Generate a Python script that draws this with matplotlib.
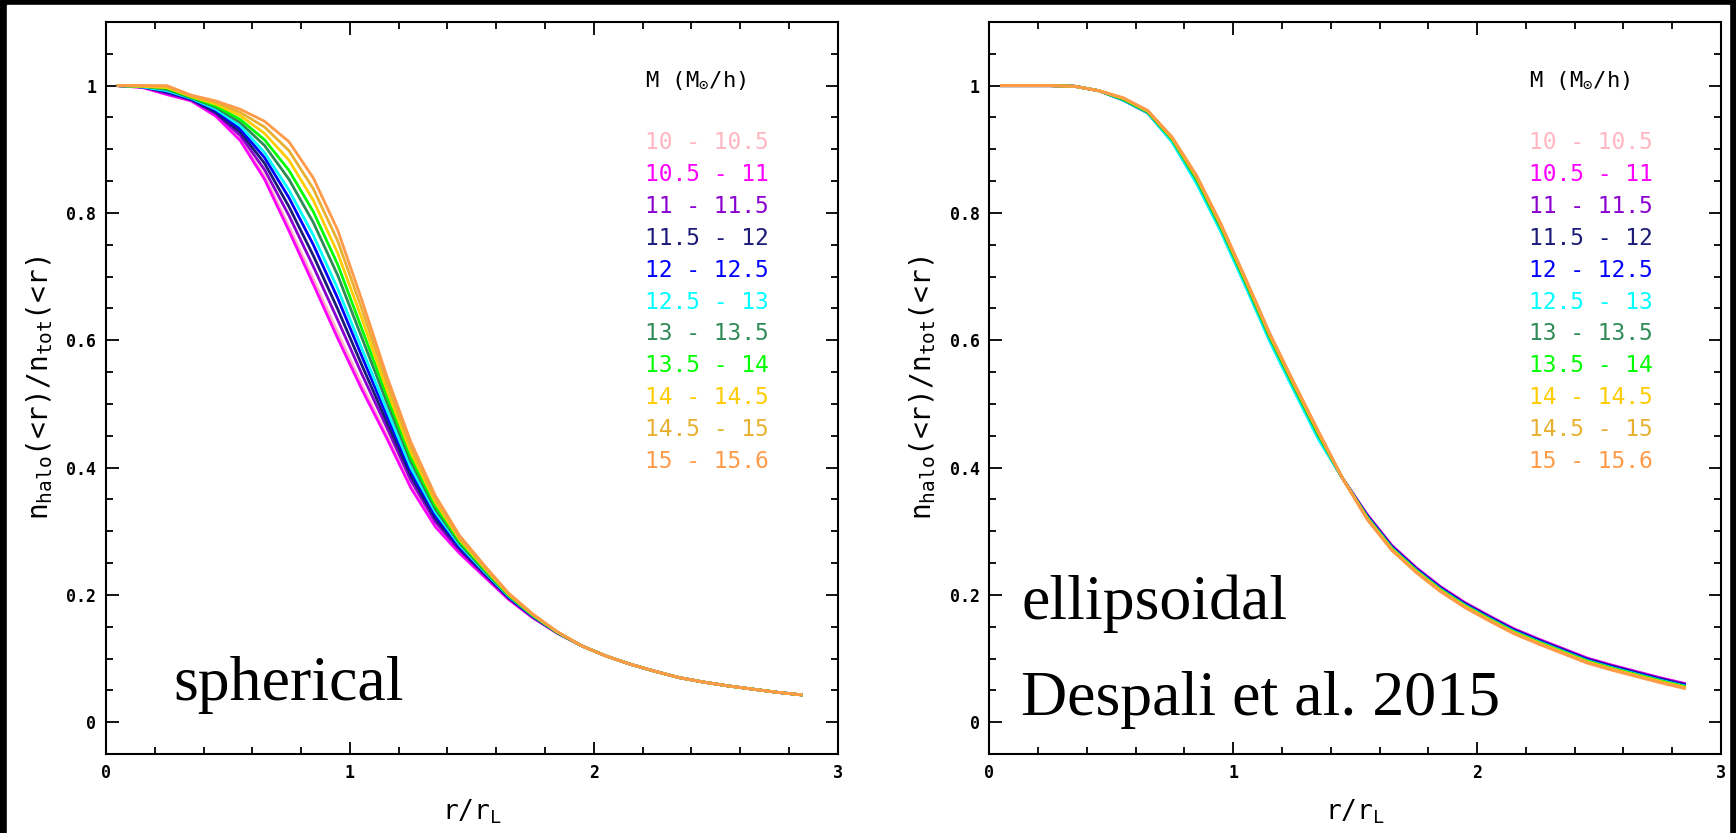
import matplotlib
matplotlib.use('Agg')
import matplotlib.pyplot as plt
from matplotlib.patches import Rectangle
from matplotlib.ticker import MultipleLocator, FuncFormatter

plt.rcParams['font.family'] = 'DejaVu Sans Mono'
plt.rcParams['mathtext.fontset'] = 'custom'
plt.rcParams['mathtext.rm'] = 'DejaVu Sans Mono'
plt.rcParams['mathtext.it'] = 'DejaVu Sans Mono'

################ data ################
r_over_rL = [0.05, 0.15, 0.25, 0.35, 0.45, 0.55, 0.65, 0.75, 0.85, 0.95,
             1.05, 1.15, 1.25, 1.35, 1.45, 1.55, 1.65, 1.75, 1.85, 1.95,
             2.05, 2.15, 2.25, 2.35, 2.45, 2.55, 2.65, 2.75, 2.85]

mass_bins = ['10 - 10.5', '10.5 - 11', '11 - 11.5', '11.5 - 12', '12 - 12.5',
             '12.5 - 13', '13 - 13.5', '13.5 - 14', '14 - 14.5', '14.5 - 15',
             '15 - 15.6']
bin_colors = ['#ffb6c1', '#ff00ff', '#8a00d0', '#1c1c78', '#0000ff', '#00ffff',
              '#2e8b57', '#00ff00', '#ffcc00', '#e8b030', '#ff9a48']

# spherical collapse
sph_10 = [1.000, .997, .987, .976, .953, .916, .858, .779, .696, .612, .529, .452, .372, .309, .266,
          .230, .194, .164, .140, .120, .104, .091, .080, .070, .063, .057, .052, .047, .043]
sph_105 = [1.000, .997, .986, .976, .952, .914, .853, .772, .688, .603, .522, .447, .368, .307, .265,
           .229, .193, .164, .140, .120, .104, .091, .080, .070, .063, .057, .052, .047, .043]
sph_11 = [1.000, .998, .988, .978, .956, .922, .868, .796, .716, .632, .546, .464, .380, .315, .270,
          .232, .195, .165, .140, .120, .104, .091, .080, .070, .063, .057, .052, .047, .043]
sph_115 = [1.000, .998, .990, .978, .958, .927, .878, .810, .733, .649, .560, .473, .387, .320, .273,
           .234, .196, .166, .141, .120, .104, .091, .080, .070, .063, .057, .052, .047, .043]
sph_12 = [1.000, .998, .991, .979, .961, .932, .887, .824, .750, .666, .574, .483, .394, .325, .275,
          .236, .197, .166, .141, .120, .104, .091, .080, .070, .063, .057, .052, .047, .043]
sph_125 = [1.000, .998, .992, .980, .963, .937, .895, .836, .765, .681, .586, .492, .400, .330, .278,
           .237, .198, .167, .141, .120, .104, .091, .080, .070, .063, .057, .052, .047, .043]
sph_13 = [1.000, .999, .994, .981, .966, .942, .906, .853, .785, .702, .603, .504, .409, .335, .281,
          .239, .199, .167, .141, .120, .104, .091, .080, .070, .063, .057, .052, .047, .043]
sph_135 = [1.000, .999, .996, .982, .968, .947, .915, .867, .802, .719, .617, .514, .416, .340, .284,
           .241, .200, .168, .141, .120, .104, .091, .080, .070, .063, .057, .052, .047, .043]
sph_14 = [1.000, .999, .997, .983, .971, .953, .925, .883, .820, .737, .633, .524, .424, .346, .287,
          .243, .201, .169, .142, .120, .104, .091, .080, .070, .063, .057, .052, .047, .043]
sph_145 = [1.000, 1.000, .999, .984, .974, .958, .935, .898, .838, .756, .648, .535, .432, .351, .290,
           .245, .202, .169, .142, .120, .104, .091, .080, .070, .063, .057, .052, .047, .043]
sph_15 = [1.000, 1.000, 1.000, .985, .976, .963, .944, .912, .855, .773, .662, .545, .440, .356, .293,
          .247, .203, .170, .142, .120, .104, .091, .080, .070, .063, .057, .052, .047, .043]

# ellipsoidal collapse (Despali et al. 2015)
ell_10 = [1.000, 1.000, 1.000, .999, .992, .979, .959, .916, .854, .778, .693, .606, .528, .452, .382,
          .325, .277, .242, .212, .187, .166, .146, .130, .115, .100, .089, .079, .069, .060]
ell_105 = [1.000, 1.000, 1.000, .999, .992, .978, .958, .915, .852, .776, .691, .604, .526, .450, .382,
           .326, .278, .243, .213, .188, .167, .147, .131, .116, .101, .090, .080, .070, .061]
ell_11 = [1.000, 1.000, 1.000, .999, .992, .978, .958, .914, .851, .775, .690, .603, .525, .449, .382,
          .325, .277, .242, .212, .187, .166, .146, .130, .115, .100, .089, .079, .069, .060]
ell_115 = [1.000, 1.000, 1.000, .999, .992, .978, .958, .914, .850, .774, .689, .602, .524, .448, .382,
           .324, .276, .241, .211, .186, .165, .145, .129, .114, .099, .088, .078, .068, .059]
ell_12 = [1.000, 1.000, 1.000, .999, .992, .977, .957, .912, .848, .772, .687, .600, .522, .446, .382,
          .323, .275, .240, .210, .185, .164, .144, .128, .113, .098, .087, .077, .067, .058]
ell_125 = [1.000, 1.000, 1.000, .999, .992, .977, .957, .911, .846, .770, .685, .598, .520, .444, .382,
           .322, .274, .239, .209, .184, .163, .143, .127, .112, .097, .086, .076, .066, .057]
ell_13 = [1.000, 1.000, 1.000, .999, .992, .978, .958, .915, .852, .776, .691, .604, .526, .450, .382,
          .321, .273, .238, .208, .183, .162, .142, .126, .111, .096, .085, .075, .065, .056]
ell_135 = [1.000, 1.000, 1.000, .999, .992, .979, .959, .916, .854, .778, .693, .606, .528, .452, .382,
           .321, .273, .238, .208, .183, .162, .142, .126, .111, .096, .085, .075, .065, .056]
ell_14 = [1.000, 1.000, 1.000, .999, .992, .980, .960, .917, .856, .780, .695, .608, .530, .454, .382,
          .320, .272, .237, .207, .182, .161, .141, .125, .110, .095, .084, .074, .064, .055]
ell_145 = [1.000, 1.000, 1.000, .999, .992, .980, .960, .918, .857, .781, .696, .609, .531, .455, .382,
           .319, .271, .236, .206, .181, .160, .140, .124, .109, .094, .083, .073, .063, .054]
ell_15 = [1.000, 1.000, 1.000, .999, .992, .981, .961, .919, .859, .783, .698, .611, .533, .457, .382,
          .318, .270, .235, .205, .180, .159, .139, .123, .108, .093, .082, .072, .062, .053]

sph_curves = [sph_10, sph_105, sph_11, sph_115, sph_12, sph_125, sph_13, sph_135, sph_14, sph_145, sph_15]
ell_curves = [ell_10, ell_105, ell_11, ell_115, ell_12, ell_125, ell_13, ell_135, ell_14, ell_145, ell_15]

W, H = 1736, 833
fig = plt.figure(figsize=(W / 100, H / 100), dpi=100, facecolor='black')
# white page inside the black screenshot border
fig.patches.append(Rectangle((7 / W, 0), (1729 - 7) / W, (H - 5) / H,
                             transform=fig.transFigure, color='white', zorder=-10))

ax_w = 731.7 / W
ax_h = 732 / H
ax_b = 1 - 754 / H
ax1 = fig.add_axes([106 / W, ax_b, ax_w, ax_h])
ax2 = fig.add_axes([989.3 / W, ax_b, ax_w, ax_h])


def fmt(v, pos):
    return '%g' % round(v, 3)


for ax, curves in [(ax1, sph_curves), (ax2, ell_curves)]:
    for yv, c in zip(curves, bin_colors):
        ax.plot(r_over_rL, yv, color=c, lw=2.0, solid_joinstyle='round')
    ax.set_xlim(0, 3)
    ax.set_ylim(-0.05, 1.1)
    ax.xaxis.set_major_locator(MultipleLocator(1))
    ax.xaxis.set_minor_locator(MultipleLocator(0.2))
    ax.yaxis.set_major_locator(MultipleLocator(0.2))
    ax.yaxis.set_minor_locator(MultipleLocator(0.05))
    ax.xaxis.set_major_formatter(FuncFormatter(fmt))
    ax.yaxis.set_major_formatter(FuncFormatter(fmt))
    ax.tick_params(which='both', direction='in', top=True, right=True, width=1.3, labelsize=12)
    ax.tick_params(which='major', length=9, pad=7)
    ax.tick_params(which='minor', length=5)
    for lab in ax.get_xticklabels() + ax.get_yticklabels():
        lab.set_fontweight('bold')
    for s in ax.spines.values():
        s.set_linewidth(1.5)
    ax.set_xlabel(r'r/r$_{\rm L}$', fontsize=19, labelpad=11)
    ax.set_ylabel(r'n$_{\rm halo}$(<r)/n$_{\rm tot}$(<r)', fontsize=20, labelpad=8)

    # legend written as coloured text, like the original
    tr = ax.get_yaxis_transform()
    ax.text(0.737, 1.007, r'M (M$_{\odot}$/h)', transform=tr, fontsize=16, va='center', color='black')
    for k, (lab, c) in enumerate(zip(mass_bins, bin_colors)):
        ax.text(0.737, 0.91 - 0.05 * k, lab, transform=tr, fontsize=16.5, va='center', color=c)

fig.text(173 / W, 1 - 700 / H, 'spherical', family='Liberation Serif', fontsize=46, va='baseline')
fig.text(1021 / W, 1 - 619 / H, 'ellipsoidal', family='Liberation Serif', fontsize=46, va='baseline')
fig.text(1021 / W, 1 - 715 / H, 'Despali et al. 2015', family='Liberation Serif', fontsize=46, va='baseline')

fig.savefig('out.png', dpi=100, facecolor=fig.get_facecolor())
